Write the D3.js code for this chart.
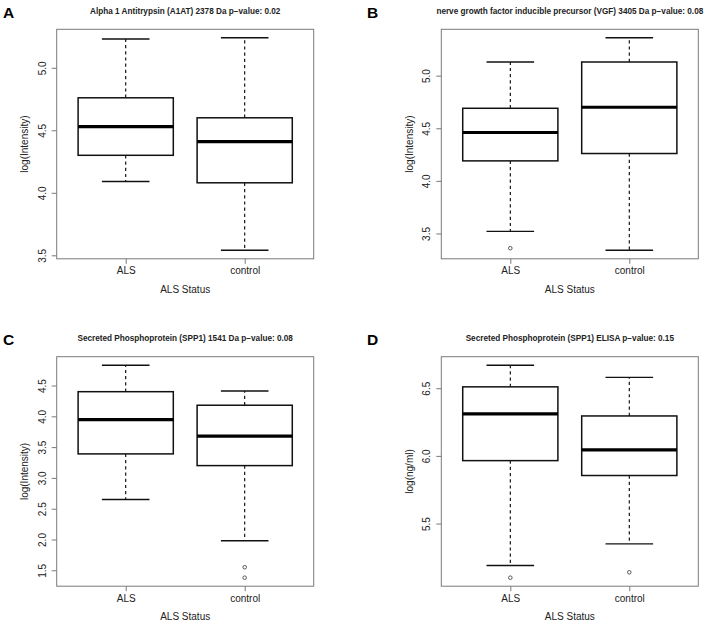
<!DOCTYPE html>
<html>
<head>
<meta charset="utf-8">
<script src="https://cdn.jsdelivr.net/npm/d3@7"></script>
<style>
  html, body { margin: 0; padding: 0; background: #fff; }
  svg { display: block; }
  text { font-family: "Liberation Sans", Arial, sans-serif; }
</style>
</head>
<body>
<svg id="chart" width="714" height="624"></svg>
<script>
// ---------------- data ----------------
const groups = ["ALS", "control"];
const panelLetters = ["A", "B", "C", "D"];
const panelTitles = [
  "Alpha 1 Antitrypsin (A1AT) 2378 Da p\u2212value: 0.02",
  "nerve growth factor inducible precursor (VGF) 3405 Da p\u2212value: 0.08",
  "Secreted Phosphoprotein (SPP1) 1541 Da p\u2212value: 0.08",
  "Secreted Phosphoprotein (SPP1) ELISA p\u2212value: 0.15"
];
const yAxisLabels = ["log(Intensity)", "log(Intensity)", "log(Intensity)", "log(ng/ml)"];
const xAxisLabel = "ALS Status";

// five-number summaries per group: [lower whisker, Q1, median, Q3, upper whisker]
const statsA = [[4.09, 4.30, 4.53, 4.76, 5.23], [3.54, 4.08, 4.41, 4.60, 5.24]];
const statsB = [[3.52, 4.19, 4.46, 4.69, 5.13], [3.34, 4.26, 4.70, 5.13, 5.36]];
const statsC = [[2.65, 3.39, 3.945, 4.40, 4.83], [1.98, 3.20, 3.68, 4.18, 4.41]];
const statsD = [[5.19, 5.965, 6.31, 6.51, 6.67], [5.35, 5.855, 6.045, 6.295, 6.58]];

const outliersA = [[], []];
const outliersB = [[3.36], []];
const outliersC = [[], [1.55, 1.38]];
const outliersD = [[5.10], [5.14]];

const ticksA = [3.5, 4.0, 4.5, 5.0];
const ticksB = [3.5, 4.0, 4.5, 5.0];
const ticksC = [1.5, 2.0, 2.5, 3.0, 3.5, 4.0, 4.5];
const ticksD = [5.5, 6.0, 6.5];

const allStats = [statsA, statsB, statsC, statsD];
const allOutliers = [outliersA, outliersB, outliersC, outliersD];
const allTicks = [ticksA, ticksB, ticksC, ticksD];

// ---------------- layout ----------------
const colLeft = [56.7, 441.3];
const rowTop = [29.3, 356.7];
const plotW = 257;
const plotH = 229.5;

const svg = d3.select("#chart");

const frameColor = "#7a7a7a";
const textColor = "#222";

panelLetters.forEach((letter, i) => {
  const col = i % 2, row = Math.floor(i / 2);
  const g = svg.append("g").attr("transform", `translate(${colLeft[col]},${rowTop[row]})`);

  const stats = allStats[i];
  const outs = allOutliers[i];
  const vals = stats.flat().concat(outs.flat());
  const [lo, hi] = d3.extent(vals);
  const pad = (hi - lo) * 0.04;

  const x = d3.scaleLinear().domain([0.42, 2.58]).range([0, plotW]);
  const y = d3.scaleLinear().domain([lo - pad, hi + pad]).range([plotH, 0]);

  // panel letter
  svg.append("text")
    .attr("x", col === 0 ? 3 : 367)
    .attr("y", rowTop[row] - 11.8)
    .attr("font-size", 15.5)
    .attr("font-weight", "bold")
    .attr("fill", "#000")
    .text(letter);

  // title
  g.append("text")
    .attr("x", plotW / 2)
    .attr("y", -15.5)
    .attr("text-anchor", "middle")
    .attr("font-size", 8.2)
    .attr("font-weight", "bold")
    .attr("fill", textColor)
    .text(panelTitles[i]);

  // boxes
  const boxW = x(1.4) - x(0.6);
  const capW = boxW / 2;
  groups.forEach((grp, j) => {
    const s = stats[j];
    const cx = x(j + 1);
    const bg = g.append("g");
    // whiskers (dashed)
    bg.append("line").attr("x1", cx).attr("x2", cx).attr("y1", y(s[3])).attr("y2", y(s[4]))
      .attr("stroke", "#000").attr("stroke-width", 1.1).attr("stroke-dasharray", "3.2,3");
    bg.append("line").attr("x1", cx).attr("x2", cx).attr("y1", y(s[1])).attr("y2", y(s[0]))
      .attr("stroke", "#000").attr("stroke-width", 1.1).attr("stroke-dasharray", "3.2,3");
    // caps
    [s[0], s[4]].forEach(v => {
      bg.append("line").attr("x1", cx - capW / 2).attr("x2", cx + capW / 2)
        .attr("y1", y(v)).attr("y2", y(v))
        .attr("stroke", "#111").attr("stroke-width", 1.4);
    });
    // box
    bg.append("rect").attr("x", cx - boxW / 2).attr("width", boxW)
      .attr("y", y(s[3])).attr("height", y(s[1]) - y(s[3]))
      .attr("fill", "#fff").attr("stroke", "#111").attr("stroke-width", 1.5);
    // median
    bg.append("line").attr("x1", cx - boxW / 2).attr("x2", cx + boxW / 2)
      .attr("y1", y(s[2])).attr("y2", y(s[2]))
      .attr("stroke", "#000").attr("stroke-width", 3.2);
    // outliers
    outs[j].forEach(v => {
      bg.append("circle").attr("cx", cx).attr("cy", y(v)).attr("r", 1.8)
        .attr("fill", "none").attr("stroke", "#333").attr("stroke-width", 0.8);
    });
  });

  // frame
  g.append("rect").attr("x", 0).attr("y", 0).attr("width", plotW).attr("height", plotH)
    .attr("fill", "none").attr("stroke", frameColor).attr("stroke-width", 1);

  // y axis
  const yAxis = d3.axisLeft(y).tickValues(allTicks[i]).tickFormat(d3.format(".1f")).tickSize(5).tickPadding(0);
  const ya = g.append("g").call(yAxis);
  ya.select(".domain").remove();
  ya.selectAll(".tick line").attr("stroke", frameColor);
  ya.selectAll(".tick text")
    .attr("transform", "rotate(-90)")
    .attr("x", 0)
    .attr("y", -14.5)
    .attr("dy", "0.35em")
    .attr("text-anchor", "middle")
    .attr("font-size", 10)
    .attr("font-family", "Liberation Sans, Arial, sans-serif")
    .attr("fill", textColor);

  // x axis
  const xAxis = d3.axisBottom(x).tickValues([1, 2]).tickFormat((d, k) => groups[k]).tickSize(5).tickPadding(0);
  const xa = g.append("g").attr("transform", `translate(0,${plotH})`).call(xAxis);
  xa.select(".domain").remove();
  xa.selectAll(".tick line").attr("stroke", frameColor);
  xa.selectAll(".tick text")
    .attr("y", 15.7)
    .attr("dy", 0)
    .attr("font-size", 10)
    .attr("font-family", "Liberation Sans, Arial, sans-serif")
    .attr("fill", textColor);

  // x axis title
  g.append("text")
    .attr("x", plotW / 2)
    .attr("y", plotH + 34)
    .attr("text-anchor", "middle")
    .attr("font-size", 10)
    .attr("fill", textColor)
    .text(xAxisLabel);

  // y axis title
  g.append("text")
    .attr("transform", `translate(${-32},${plotH / 2}) rotate(-90)`)
    .attr("text-anchor", "middle")
    .attr("dy", "0.35em")
    .attr("font-size", 10)
    .attr("fill", textColor)
    .text(yAxisLabels[i]);
});
</script>
</body>
</html>
